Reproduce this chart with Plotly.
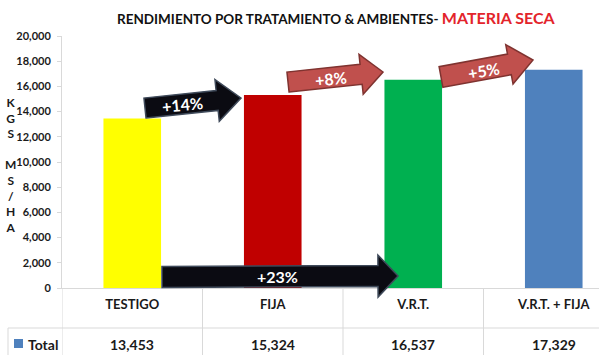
import math
import plotly.graph_objects as go

# ---- data ----
categories = ["TESTIGO", "FIJA", "V.R.T.", "V.R.T. + FIJA"]
values = [13453, 15324, 16537, 17329]
bar_colors = ["#FFFF00", "#C00000", "#00B050", "#4F81BD"]
value_labels = ["13,453", "15,324", "16,537", "17,329"]
y_ticks = [0, 2000, 4000, 6000, 8000, 10000, 12000, 14000, 16000, 18000, 20000]
y_tick_labels = ["0", "2,000", "4,000", "6,000", "8,000", "10,000", "12,000",
                 "14,000", "16,000", "18,000", "20,000"]
arrow_labels = ["+14%", "+8%", "+5%", "+23%"]

# ---- layout geometry ----
W, H = 599, 355
ML, MR, MT, MB = 62, 0, 36, 67
PW, PH = W - ML - MR, H - MT - MB
CAT_W = 140.5
x_range = [-0.5, -0.5 + PW / CAT_W]

FONT = "Lato"
DARK = "#1a1a1a"


def px(xp):
    return (xp - ML) / PW


def py(yp):
    return (H - MB - yp) / PH


fig = go.Figure()
fig.add_trace(go.Bar(
    x=list(range(len(categories))), y=values,
    marker=dict(color=bar_colors, line=dict(width=0)),
    width=0.41, name="Total", showlegend=False, hoverinfo="skip",
))

# ---- arrows (decoration, pixel geometry) ----
arrows = [
    dict(t=(145, 108), p=(241, 98), b=10, h=21, L=24, fill="#0B0B12", line="#3F4A5A",
         txt=(182, 104), ang=-6),
    dict(t=(288, 82), p=(383, 72), b=10, h=20, L=22, fill="#C0504D", line="#7F3330",
         txt=(331, 78), ang=-6),
    dict(t=(441, 77), p=(533, 60), b=10.5, h=20, L=24, fill="#C0504D", line="#7F3330",
         txt=(484, 71), ang=-10),
    dict(t=(162, 277), p=(398, 276), b=10.5, h=21, L=20, fill="#0B0B12", line="#3F4A5A",
         txt=(277, 276), ang=0),
]

shapes = []
annotations = []
for a, lab in zip(arrows, arrow_labels):
    tx, ty = a["t"]
    pxp, pyp = a["p"]
    dx, dy = pxp - tx, pyp - ty
    ln = math.hypot(dx, dy)
    dx, dy = dx / ln, dy / ln
    nx, ny = -dy, dx
    bx, by = pxp - dx * a["L"], pyp - dy * a["L"]
    pts = [
        (tx + nx * a["b"], ty + ny * a["b"]),
        (bx + nx * a["b"], by + ny * a["b"]),
        (bx + nx * a["h"], by + ny * a["h"]),
        (pxp, pyp),
        (bx - nx * a["h"], by - ny * a["h"]),
        (bx - nx * a["b"], by - ny * a["b"]),
        (tx - nx * a["b"], ty - ny * a["b"]),
    ]
    path = "M " + " L ".join(f"{px(x):.5f},{py(y):.5f}" for x, y in pts) + " Z"
    shapes.append(dict(type="path", path=path, xref="paper", yref="paper",
                       fillcolor=a["fill"], line=dict(color=a["line"], width=1.5),
                       layer="above"))
    annotations.append(dict(x=px(a["txt"][0]), y=py(a["txt"][1]), xref="paper", yref="paper",
                            text=lab, showarrow=False, textangle=a["ang"],
                            font=dict(family=FONT, size=16, color="white", weight="bold"),
                            xanchor="center", yanchor="middle"))

# ---- data table below the axis ----
GRID = "#d9d9d9"
y_bottom = py(H)
for i in range(len(categories) + 1):
    shapes.append(dict(type="line", xref="x", yref="paper", x0=i - 0.5, x1=i - 0.5,
                       y0=0, y1=y_bottom, line=dict(color=GRID, width=1), layer="below"))
shapes.append(dict(type="line", xref="paper", yref="paper", x0=px(8), x1=1,
                   y0=py(328), y1=py(328), line=dict(color=GRID, width=1)))
shapes.append(dict(type="line", xref="paper", yref="paper", x0=px(8), x1=px(8),
                   y0=py(328), y1=py(355), line=dict(color=GRID, width=1)))
# legend key
shapes.append(dict(type="rect", xref="paper", yref="paper", x0=px(14), x1=px(23),
                   y0=py(348), y1=py(339), fillcolor="#4F81BD", line=dict(width=0)))
annotations.append(dict(x=px(26), y=py(344), xref="paper", yref="paper", text="Total",
                        showarrow=False, xanchor="left", yanchor="middle",
                        font=dict(family=FONT, size=14, color=DARK, weight="bold")))
for i, v in enumerate(value_labels):
    annotations.append(dict(x=i, y=py(344), xref="x", yref="paper", text=v,
                            showarrow=False, xanchor="center", yanchor="middle",
                            font=dict(family=FONT, size=14, color=DARK, weight="bold")))

# ---- y axis title (stacked letters) ----
annotations.append(dict(x=px(10), y=py(165), xref="paper", yref="paper",
                        text="K<br>G<br>S<br> <br>M<br>S<br>/<br>H<br>A",
                        showarrow=False, xanchor="center", yanchor="middle",
                        font=dict(family=FONT, size=12, color=DARK, weight="bold")))

# ---- title ----
annotations.append(dict(
    x=px(336), y=py(17), xref="paper", yref="paper",
    text=("RENDIMIENTO POR TRATAMIENTO &amp; AMBIENTES- "
          "<span style='color:#E3242B;font-size:16px'>MATERIA SECA</span>"),
    showarrow=False, xanchor="center", yanchor="middle",
    font=dict(family=FONT, size=13.5, color="#111111", weight="bold"),
))

fig.update_layout(
    width=W, height=H,
    margin=dict(l=ML, r=MR, t=MT, b=MB, pad=0),
    paper_bgcolor="white", plot_bgcolor="white",
    showlegend=False,
    xaxis=dict(range=x_range, tickmode="array", tickvals=list(range(len(categories))),
               ticktext=categories, showgrid=False, zeroline=False,
               showline=True, linecolor=GRID, linewidth=1,
               ticks="", ticklabelstandoff=4,
               tickfont=dict(family=FONT, size=13, color=DARK, weight="bold")),
    yaxis=dict(range=[0, 20000], tickmode="array", tickvals=y_ticks, ticktext=y_tick_labels,
               showgrid=False, zeroline=False, showline=True, linecolor=GRID, linewidth=1,
               ticks="outside", ticklen=4, tickcolor=GRID, ticklabelstandoff=4,
               tickfont=dict(family=FONT, size=11, color=DARK, weight="bold")),
    shapes=shapes, annotations=annotations,
    bargap=0.5,
)

fig.write_html("out.html", config={"displayModeBar": False},
               post_script="document.body.style.margin='0';document.body.style.padding='0';")
